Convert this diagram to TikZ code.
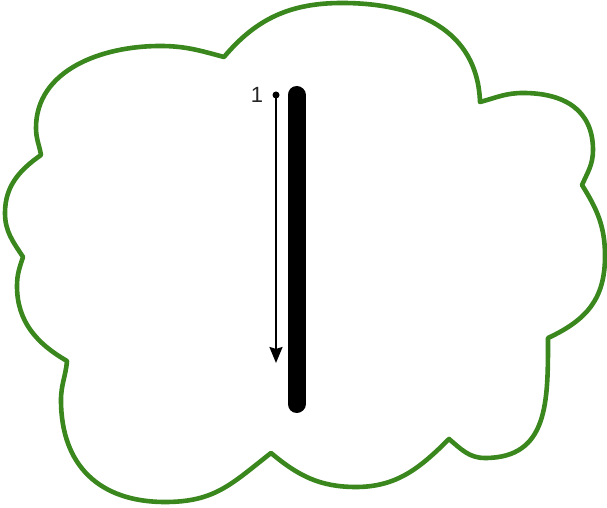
\documentclass[tikz,border=0pt]{standalone}
\usepackage{fontspec}
\setsansfont{Liberation Sans}
\usepackage{tikz}
\usetikzlibrary{arrows.meta,positioning}
\definecolor{cloudgreen}{RGB}{58,135,30}
\definecolor{inkblack}{RGB}{0,0,0}
\tikzset{
  cloudline/.style={draw=cloudgreen, line width=4.6pt, line join=round, fill=white},
  rod/.style={line width=18pt, line cap=round, draw=inkblack},
  arr/.style={-{Stealth[length=16pt,width=13pt,inset=2pt]}, line width=2.2pt, draw=inkblack},
  lbl/.style={font=\sffamily\fontsize{22}{22}\selectfont, text=inkblack!85, inner sep=0pt},
}

\begin{document}
\begin{tikzpicture}[x=1pt,y=1pt]
  \useasboundingbox (0,0) rectangle (607,508);
  % cloud outline, lobe by lobe (cusp -> extremes -> cusp)
  \draw[cloudline] (41,353)
    to[out=100,in=-90] (36,380) to[out=90,in=180] (160,462) to[out=0,in=165] (224,451)
    to[out=50,in=180] (342,505) to[out=0,in=92,looseness=1.1] (480,406)
    to[out=15,in=180] (523,415) to[out=0,in=90,looseness=1.15] (593,358) to[out=-90,in=66] (582,323)
    to[out=-58,in=90] (605,252) to[out=-90,in=25,looseness=1.1] (548,170)
    to[out=-90,in=0,looseness=1.2] (485,50) to[out=180,in=-40] (449,69)
    to[out=-135,in=0] (356,21) to[out=180,in=-40] (271,55)
    to[out=-142,in=0,looseness=1.1] (165,6) to[out=180,in=-90,looseness=1.15] (61,108) to[out=90,in=-95] (67,147)
    to[out=150,in=-90] (17,222) to[out=90,in=-108] (23,251)
    to[out=123,in=-90] (5,295) to[out=90,in=-145] (41,353)
    -- cycle;
  % bar
  \coordinate (bartop) at (296.5,413);
  \coordinate (barbot) at (296.5,104);
  \draw[rod] (bartop) -- (barbot);
  % path 1
  \coordinate (start1) at (276,413);
  \coordinate (end1) at (276,145);
  \fill[inkblack] (start1) circle (3.5);
  \draw[arr] (start1) -- (end1);
  \node[lbl] (num1) at (257,413) {1};
\end{tikzpicture}
\end{document}
